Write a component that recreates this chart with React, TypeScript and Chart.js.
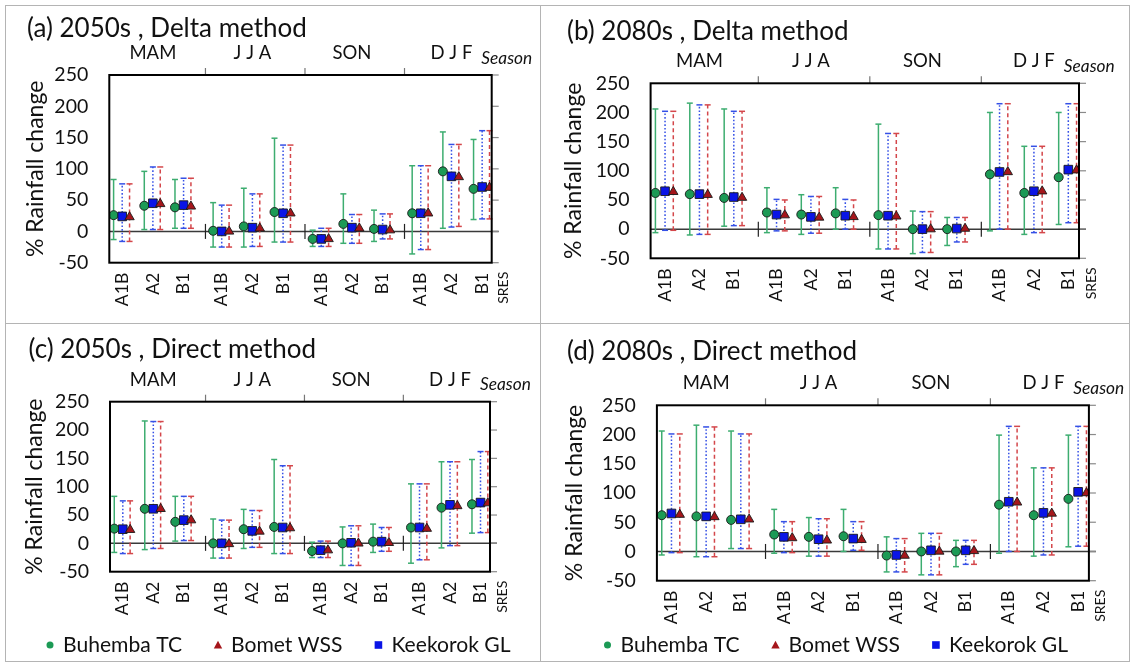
import React, { useEffect, useRef } from "react";
import { Chart, registerables } from "chart.js";
Chart.register(...registerables);

const FONT = "Lato, 'Open Sans', sans-serif";
const TEXT = "#111";

const seasonLabels = ["MAM", "J J A", "SON", "D J F"];
const sresLabels = ["A1B", "A2", "B1", "A1B", "A2", "B1", "A1B", "A2", "B1", "A1B", "A2", "B1"];
const seriesNames = ["Buhemba TC", "Bomet WSS", "Keekorok GL"];
const yTickValues = [-50, 0, 50, 100, 150, 200, 250];

// (a) 2050s, Delta method
const aBuhemba = [26, 41, 38.5, 1, 8, 31, -12, 12, 4, 29, 96, 68];
const aBuhembaLow = [-13, 3, 5, -25, -25, -17, -24, -19, -16, -36, 5, 19];
const aBuhembaHigh = [83, 96, 83, 46, 69, 149, 2, 60, 34, 105, 159, 147];
const aBomet = [23, 44, 40, 0, 5, 29, -12, 5, 2, 29, 87, 70];
const aBometLow = [-16, 3, 5, -25, -24, -17, -24, -19, -12, -29, 8, 20];
const aBometHigh = [76, 103, 85, 42, 60, 138, 5, 27, 28, 105, 139, 161];
const aKeekorok = [24, 45, 42, 0, 6, 29, -12, 6, 3, 29, 88, 71];
const aKeekorokLow = [-16, 3, 5, -25, -24, -17, -24, -19, -12, -29, 7, 20];
const aKeekorokHigh = [76, 103, 85, 42, 60, 138, 5, 27, 28, 105, 139, 161];

// (b) 2080s, Delta method
const bBuhemba = [62, 60, 53.5, 28.5, 25, 27, 24, 0, 0, 94, 62, 89];
const bBuhembaLow = [-6, -10, 5, -6, -9, 0, -34, -42, -28, -3, -9, 8];
const bBuhembaHigh = [206, 216, 206, 71, 59, 71, 180, 31, 20, 200, 142, 200];
const bBomet = [64, 59, 54, 24, 20, 21, 22, 0, 1, 98, 65, 101];
const bBometLow = [-2, -9, 6, -3, -7, 0, -34, -40, -22, 0, -6, 11];
const bBometHigh = [202, 213, 202, 50, 56, 50, 164, 30, 20, 215, 142, 215];
const bKeekorok = [65, 60, 55, 25, 21, 23, 23, 0, 1, 98, 65, 102];
const bKeekorokLow = [-2, -9, 6, -3, -7, 0, -34, -40, -22, 0, -6, 11];
const bKeekorokHigh = [202, 213, 202, 51, 56, 51, 164, 30, 20, 215, 142, 215];

// (c) 2050s, Direct method
const cBuhemba = [26, 61, 38, 0, 25, 29, -13.5, 0, 3, 28, 63, 69];
const cBuhembaLow = [-16, -11, 4, -26, -9, -18, -25, -39, -16, -35, -8, 18];
const cBuhembaHigh = [83, 216, 83, 43, 60, 148, 2, 29, 34, 105, 144, 148];
const cBomet = [24, 61, 41, -1, 21, 27, -12, 0, 1, 26, 66, 71];
const cBometLow = [-18, -9, 5, -26, -7, -18, -25, -39, -14, -29, -4, 19];
const cBometHigh = [75, 215, 83, 41, 58, 137, 4, 31, 28, 105, 144, 162];
const cKeekorok = [25, 61, 41, 0, 22, 28, -12, 1, 3, 28, 68, 72];
const cKeekorokLow = [-18, -9, 5, -26, -7, -18, -25, -39, -14, -29, -4, 19];
const cKeekorokHigh = [75, 215, 83, 41, 58, 137, 4, 31, 28, 105, 144, 162];

// (d) 2080s, Direct method
const dBuhemba = [62, 60, 54, 29, 25, 26, -7, 0, 0, 80, 62, 90];
const dBuhembaLow = [-6, -9, 5, -3, -8, 0, -35, -40, -26, -3, -8, 8];
const dBuhembaHigh = [206, 216, 206, 72, 58, 72, 25, 31, 19, 199, 143, 199];
const dBomet = [63, 59, 55, 23, 19, 20, -7, 0, 1, 84, 65, 100];
const dBometLow = [-2, -9, 5, -2, -8, 2, -35, -40, -22, 0, -6, 9];
const dBometHigh = [201, 213, 201, 51, 56, 51, 22, 31, 19, 214, 143, 214];
const dKeekorok = [65, 60, 55, 25, 21, 22, -6, 2, 2, 85, 66, 102];
const dKeekorokLow = [-2, -9, 5, -2, -8, 2, -35, -40, -22, 0, -6, 9];
const dKeekorokHigh = [201, 213, 201, 51, 56, 51, 22, 31, 19, 214, 143, 214];

type Band = { mid: number[]; low: number[]; high: number[] };

// layout of the category axis: groups of three scenarios with a gap between seasons
const GROUP_STEP = 3.243;
const X_MIN = -0.42;
const X_MAX = 12.04;
const catPos = (i: number) => Math.floor(i / 3) * GROUP_STEP + (i % 3);
const boundaryPos = (g: number) => g * GROUP_STEP - 0.53;

// series: Buhemba (green circle), Bomet (red triangle), Keekorok (blue square)
const STYLE = [
  { shape: "circle", fill: "#1c9a55", line: "#3dad70", dash: [] as number[], offset: -0.28, radius: 4.5, order: 3 },
  { shape: "triangle", fill: "#a5161b", line: "#d4474b", dash: [4, 3], offset: 0.24, radius: 5.4, order: 1 },
  { shape: "rect", fill: "#0a14e6", line: "#3550e6", dash: [1.6, 2], offset: 0, radius: 6.1, order: 2 },
];

// target text widths (px) used to size the fonts
const FIT = {
  title: { text: "(a) 2050s , Delta method", w: 280, style: "" },
  yTick: { text: "250", w: 34, style: "" },
  xTick: { text: "A1B", w: 33.5, style: "" },
  yTitle: { text: "% Rainfall change", w: 176, style: "" },
  season: { text: "MAM", w: 47, style: "" },
  seasonNote: { text: "Season", w: 51, style: "italic " },
  sres: { text: "SRES", w: 32, style: "" },
  legend: { text: "Buhemba TC", w: 119, style: "" },
};

let fitCache: Record<string, number> | null = null;
function fontSizes(): Record<string, number> {
  if (fitCache) return fitCache;
  const c = document.createElement("canvas");
  const ctx = c.getContext("2d") as CanvasRenderingContext2D;
  const out: Record<string, number> = {};
  Object.entries(FIT).forEach(([k, f]) => {
    ctx.font = `${f.style}40px ${FONT}`;
    const w = ctx.measureText(f.text).width;
    out[k] = Math.round(((40 * f.w) / w) * 10) / 10;
  });
  fitCache = out;
  return out;
}

interface PanelDef {
  id: string;
  title: string;
  box: { x: number; y: number; w: number; h: number };
  plot: { l: number; t: number; r: number; b: number };
  titleX: number;
  titleBase: number;
  yTitleX: number;
  legendX?: number;
  legendY?: number;
  bands: Band[];
}

const PANELS: PanelDef[] = [
  {
    id: "a",
    title: "(a) 2050s , Delta method",
    box: { x: 5, y: 5, w: 536, h: 319 },
    plot: { l: 109.3, t: 75, r: 491.7, b: 262.7 },
    titleX: 27,
    titleBase: 36.7,
    yTitleX: 35.7,
    bands: [
      { mid: aBuhemba, low: aBuhembaLow, high: aBuhembaHigh },
      { mid: aBomet, low: aBometLow, high: aBometHigh },
      { mid: aKeekorok, low: aKeekorokLow, high: aKeekorokHigh },
    ],
  },
  {
    id: "b",
    title: "(b) 2080s , Delta method",
    box: { x: 541, y: 5, w: 589, h: 319 },
    plot: { l: 650.6, t: 83.3, r: 1079, b: 258.3 },
    titleX: 567,
    titleBase: 40,
    yTitleX: 573.8,
    bands: [
      { mid: bBuhemba, low: bBuhembaLow, high: bBuhembaHigh },
      { mid: bBomet, low: bBometLow, high: bBometHigh },
      { mid: bKeekorok, low: bKeekorokLow, high: bKeekorokHigh },
    ],
  },
  {
    id: "c",
    title: "(c) 2050s , Direct method",
    box: { x: 5, y: 324, w: 536, h: 338 },
    plot: { l: 110, t: 401.7, r: 490, b: 571.7 },
    titleX: 28.6,
    titleBase: 358.3,
    yTitleX: 34.8,
    legendX: 50,
    legendY: 645,
    bands: [
      { mid: cBuhemba, low: cBuhembaLow, high: cBuhembaHigh },
      { mid: cBomet, low: cBometLow, high: cBometHigh },
      { mid: cKeekorok, low: cKeekorokLow, high: cKeekorokHigh },
    ],
  },
  {
    id: "d",
    title: "(d) 2080s , Direct method",
    box: { x: 541, y: 324, w: 589, h: 338 },
    plot: { l: 656.9, t: 405.3, r: 1088.9, b: 580.7 },
    titleX: 567,
    titleBase: 360,
    yTitleX: 574.7,
    legendX: 607.5,
    legendY: 645,
    bands: [
      { mid: dBuhemba, low: dBuhembaLow, high: dBuhembaHigh },
      { mid: dBomet, low: dBometLow, high: dBometHigh },
      { mid: dKeekorok, low: dKeekorokLow, high: dKeekorokHigh },
    ],
  },
];

function seg(ctx: CanvasRenderingContext2D, x1: number, y1: number, x2: number, y2: number) {
  ctx.beginPath();
  ctx.moveTo(x1, y1);
  ctx.lineTo(x2, y2);
  ctx.stroke();
}

function legendMarker(ctx: CanvasRenderingContext2D, shape: string, x: number, y: number, color: string) {
  ctx.fillStyle = color;
  ctx.beginPath();
  if (shape === "circle") {
    ctx.arc(x, y, 3.5, 0, Math.PI * 2);
  } else if (shape === "triangle") {
    ctx.moveTo(x, y - 4.3);
    ctx.lineTo(x + 4.2, y + 3.5);
    ctx.lineTo(x - 4.2, y + 3.5);
    ctx.closePath();
  } else {
    ctx.rect(x - 3.8, y - 3.8, 7.6, 7.6);
  }
  ctx.fill();
}

function makeChart(canvas: HTMLCanvasElement, p: PanelDef) {
  const fs = fontSizes();
  const ox = p.box.x;
  const oy = p.box.y;
  const L = p.plot.l - ox;
  const T = p.plot.t - oy;
  const R = p.plot.r - ox;
  const B = p.plot.b - oy;
  const yTitleLH = fs.yTitle * 1.2;
  const padLeft = p.yTitleX - ox - yTitleLH / 2;

  const datasets = p.bands.map((band, s) => {
    const st = STYLE[s];
    return {
      label: seriesNames[s],
      data: band.mid.map((v, i) => ({ x: catPos(i) + st.offset, y: v })),
      showLine: false,
      pointStyle: st.shape,
      pointRadius: st.radius,
      pointHoverRadius: st.radius,
      pointBackgroundColor: st.fill,
      pointBorderColor: "#1a1a1a",
      pointBorderWidth: 0.9,
      order: st.order,
    };
  });

  const decor = {
    id: "decor",
    beforeDatasetsDraw(chart: any) {
      const { ctx, chartArea: a, scales } = chart;
      const xs = scales.x;
      const ys = scales.y;
      ctx.save();
      const y0 = ys.getPixelForValue(0);
      ctx.strokeStyle = "#3a3a3a";
      ctx.lineWidth = 1.5;
      seg(ctx, a.left, y0, a.right + 7, y0);
      ctx.strokeStyle = "#222";
      ctx.lineWidth = 1.2;
      [1, 2, 3].forEach((g) => {
        const px = xs.getPixelForValue(boundaryPos(g));
        seg(ctx, px, y0 - 7.5, px, y0 + 7.5);
      });
      [0, 2, 1].forEach((s) => {
        const st = STYLE[s];
        const band = p.bands[s];
        ctx.strokeStyle = st.line;
        ctx.lineWidth = 1.5;
        band.mid.forEach((_, i) => {
          const px = xs.getPixelForValue(catPos(i) + st.offset);
          const yl = ys.getPixelForValue(band.low[i]);
          const yh = ys.getPixelForValue(band.high[i]);
          ctx.setLineDash(st.dash);
          seg(ctx, px, yl, px, yh);
          ctx.setLineDash([]);
          seg(ctx, px - 3, yh, px + 3, yh);
          seg(ctx, px - 3, yl, px + 3, yl);
        });
      });
      ctx.restore();
    },
    afterDatasetsDraw(chart: any) {
      const { ctx, chartArea: a, scales } = chart;
      const xs = scales.x;
      const ys = scales.y;
      ctx.save();
      ctx.strokeStyle = "#8a8a8a";
      ctx.lineWidth = 1.2;
      yTickValues.forEach((v) => {
        const py = ys.getPixelForValue(v);
        seg(ctx, a.right, py, a.right + 7, py);
      });
      ctx.strokeStyle = "#777";
      [1, 2, 3].forEach((g) => {
        const px = xs.getPixelForValue(boundaryPos(g));
        seg(ctx, px, a.top - 7, px, a.top);
      });
      ctx.strokeStyle = "#000";
      ctx.lineWidth = 2;
      ctx.strokeRect(a.left, a.top, a.right - a.left, a.bottom - a.top);
      ctx.restore();
    },
    afterDraw(chart: any) {
      const { ctx, chartArea: a, scales } = chart;
      const xs = scales.x;
      ctx.save();
      ctx.fillStyle = TEXT;
      ctx.font = `${fs.title}px ${FONT}`;
      ctx.textAlign = "left";
      ctx.textBaseline = "alphabetic";
      ctx.fillText(p.title, p.titleX - ox, p.titleBase - oy);
      ctx.font = `${fs.season}px ${FONT}`;
      ctx.textAlign = "center";
      const sy = a.top - 16;
      let djfRight = 0;
      seasonLabels.forEach((lab, g) => {
        const px = xs.getPixelForValue(catPos(g * 3 + 1));
        ctx.fillText(lab, px, sy);
        djfRight = px + ctx.measureText(lab).width / 2;
      });
      ctx.font = `italic ${fs.seasonNote}px ${FONT}`;
      ctx.textAlign = "left";
      ctx.fillText("Season", djfRight + 9, a.top - 11.5);
      ctx.save();
      ctx.translate(a.right + 12, a.bottom + 9);
      ctx.rotate(-Math.PI / 2);
      ctx.font = `${fs.sres}px ${FONT}`;
      ctx.textAlign = "right";
      ctx.textBaseline = "middle";
      ctx.fillText("SRES", 0, 0);
      ctx.restore();
      if (p.legendX !== undefined && p.legendY !== undefined) {
        ctx.font = `${fs.legend}px ${FONT}`;
        ctx.textBaseline = "middle";
        ctx.textAlign = "left";
        let lx = p.legendX - ox;
        const ly = p.legendY - oy;
        [0, 1, 2].forEach((s) => {
          legendMarker(ctx, STYLE[s].shape, lx, ly, STYLE[s].fill);
          ctx.fillStyle = TEXT;
          const tx = lx + 13;
          ctx.fillText(seriesNames[s], tx, ly);
          lx = tx + ctx.measureText(seriesNames[s]).width + 36;
        });
      }
      ctx.restore();
    },
  };

  return new Chart(canvas, {
    type: "scatter",
    data: { datasets: datasets as any },
    options: {
      animation: false,
      responsive: false,
      devicePixelRatio: 1,
      events: [],
      layout: { padding: { left: padLeft, top: T, right: p.box.w - R, bottom: 0 } },
      plugins: { legend: { display: false }, tooltip: { enabled: false } },
      scales: {
        x: {
          type: "linear",
          min: X_MIN,
          max: X_MAX,
          afterBuildTicks: (axis: any) => {
            axis.ticks = sresLabels.map((_, i) => ({ value: catPos(i) }));
          },
          afterFit: (axis: any) => {
            axis.height = p.box.h - B;
          },
          ticks: {
            autoSkip: false,
            minRotation: 90,
            maxRotation: 90,
            padding: 10,
            color: TEXT,
            font: { family: FONT, size: fs.xTick },
            callback: (_v: any, i: number) => sresLabels[i] ?? "",
          },
          grid: { display: false, drawTicks: false },
          border: { display: false },
        },
        y: {
          type: "linear",
          min: -50,
          max: 250,
          afterBuildTicks: (axis: any) => {
            axis.ticks = yTickValues.map((v) => ({ value: v }));
          },
          afterFit: (axis: any) => {
            axis.width = L - padLeft;
          },
          ticks: { padding: 21, color: TEXT, font: { family: FONT, size: fs.yTick } },
          grid: { display: false, drawTicks: false },
          border: { display: false },
          title: {
            display: true,
            text: "% Rainfall change",
            color: TEXT,
            font: { family: FONT, size: fs.yTitle },
            padding: 0,
          },
        },
      },
    },
    plugins: [decor],
  } as any);
}

function Panel({ p }: { p: PanelDef }) {
  const ref = useRef<HTMLCanvasElement>(null);
  useEffect(() => {
    const chart = makeChart(ref.current as HTMLCanvasElement, p);
    return () => chart.destroy();
  }, [p]);
  return (
    <canvas
      ref={ref}
      width={p.box.w}
      height={p.box.h}
      style={{ position: "absolute", left: p.box.x, top: p.box.y, width: p.box.w, height: p.box.h }}
    />
  );
}

export default function App() {
  return (
    <div style={{ position: "absolute", left: 0, top: 0, width: 1133, height: 666, background: "#fff", overflow: "hidden" }}>
      <div style={{ position: "absolute", left: 5, top: 5, width: 1125, height: 657, border: "1px solid #b4b4b4", boxSizing: "border-box" }} />
      <div style={{ position: "absolute", left: 540, top: 5, width: 1, height: 657, background: "#b4b4b4" }} />
      <div style={{ position: "absolute", left: 5, top: 323, width: 1125, height: 1, background: "#b4b4b4" }} />
      {PANELS.map((p) => (
        <Panel key={p.id} p={p} />
      ))}
    </div>
  );
}
